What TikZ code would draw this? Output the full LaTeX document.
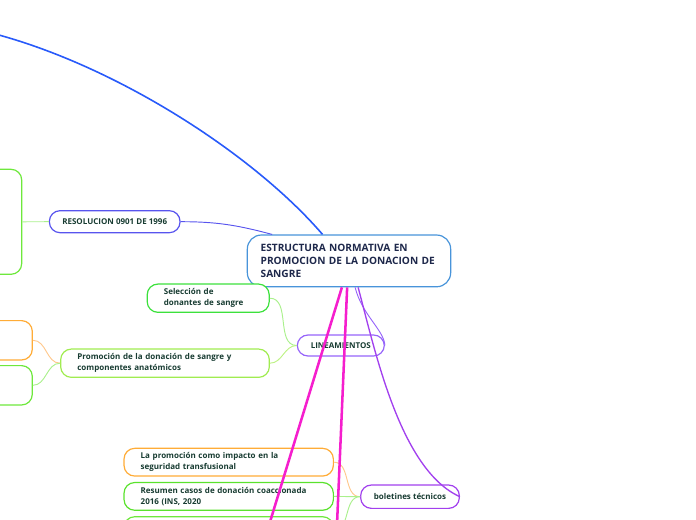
\documentclass[tikz,border=0pt]{standalone}
\usepackage{fontspec}
\setmainfont{Open Sans}
\usepackage{xcolor}
\usepackage{tikz}
\usetikzlibrary{positioning}
\definecolor{centerblue}{RGB}{72, 148, 218}
\definecolor{toplink}{RGB}{40, 90, 250}
\definecolor{resolblue}{RGB}{88, 84, 238}
\definecolor{topgreen}{RGB}{110, 232, 60}
\definecolor{selgreen}{RGB}{60, 225, 60}
\definecolor{limegreen}{RGB}{160, 236, 80}
\definecolor{stuborange}{RGB}{255, 172, 55}
\definecolor{lineampurple}{RGB}{150, 100, 250}
\definecolor{boletpurple}{RGB}{162, 64, 238}
\definecolor{magentaline}{RGB}{245, 30, 205}
\definecolor{resumgreen}{RGB}{90, 226, 45}
\definecolor{paleorange}{RGB}{255, 200, 140}
\definecolor{palegreen}{RGB}{170, 240, 140}
\definecolor{childtext}{RGB}{24, 60, 50}
\definecolor{centertext}{RGB}{30, 40, 75}

\begin{document}
\begin{tikzpicture}[x=0.75pt, y=0.75pt,
    mapbox/.style={draw, line width=0.9pt, rounded corners=8pt, fill=white, text=childtext,
        font=\bfseries\fontsize{6}{8}\selectfont, inner xsep=12.5pt, inner ysep=0pt, align=left},
    pillbox/.style={draw, line width=0.9pt, rounded corners=8pt, fill=white, text=childtext,
        font=\bfseries\fontsize{6}{8}\selectfont, inner xsep=0pt, inner ysep=0pt, align=center},
    stubbox/.style={draw, line width=0.9pt, rounded corners=8pt, fill=white, minimum width=120pt},
    link/.style={line width=0.7pt}]
    \useasboundingbox (0,-520) rectangle (696,0);
    \clip (0,-520) rectangle (696,0);

    % mind map centre and branches
    \node[draw=centerblue, line width=0.9pt, rounded corners=10.5pt, fill=white, text=centertext,
        font=\bfseries\fontsize{7.6}{10}\selectfont, align=left, text width=132.5pt, inner xsep=10pt,
        minimum height=38.8pt] (central) at (349,-260.9)
        {ESTRUCTURA NORMATIVA EN\\PROMOCION DE LA DONACION DE\\SANGRE};

    \node[pillbox, draw=resolblue, minimum width=98pt, minimum height=16.5pt] (resol) at (114.7,-221.7) {RESOLUCION 0901 DE 1996};
    \node[stubbox, draw=topgreen, minimum height=78.75pt] (greentop) at (-58.3,-221.8) {};

    \node[pillbox, draw=lineampurple, minimum width=65.25pt, minimum height=15.75pt] (lineam) at (340.8,-345.5) {LINEAMIENTOS};
    \node[mapbox, draw=selgreen, text width=66.5pt, minimum height=21.2pt] (selec) at (208.2,-298.2) {Selección de\\donantes de sangre};
    \node[mapbox, draw=limegreen, text width=131.5pt, minimum height=21.2pt] (promo) at (165,-363.2) {Promoción de la donación de sangre y\\componentes anatómicos};
    \node[stubbox, draw=stuborange, minimum height=29.5pt] (orangel) at (-47.7,-340.3) {};
    \node[stubbox, draw=topgreen, minimum height=29.5pt] (greenl) at (-47.7,-385.3) {};

    \node[pillbox, draw=boletpurple, minimum width=74pt, minimum height=17.5pt] (bolet) at (410,-496.7) {boletines técnicos};
    \node[mapbox, draw=stuborange, text width=132pt, minimum height=20.8pt] (laprom) at (228.7,-462.2) {La promoción como impacto en la\\seguridad transfusional};
    \node[mapbox, draw=resumgreen, text width=132pt, minimum height=20.8pt] (resum) at (228.7,-496.4) {Resumen casos de donación coaccionada\\2016 (INS, 2020};
    \node[stubbox, draw=topgreen, minimum width=157pt, minimum height=20.8pt] (third) at (228.7,-530.6) {};

    \coordinate (topend) at (-30,-28);
    \coordinate (magend1) at (262,-548);
    \coordinate (magend2) at (336,-548);

    \draw[link, draw=palegreen] (resol.west) -- (greentop.east);
    \draw[link, draw=resolblue] (resol.east) to[out=0, in=165] (central.161);
    \draw[link, draw=palegreen] (lineam.west) to[out=180, in=0] (selec.east);
    \draw[link, draw=limegreen!70] (lineam.west) to[out=180, in=0] (promo.east);
    \draw[link, draw=paleorange] (promo.west) to[out=180, in=0] (orangel.east);
    \draw[link, draw=palegreen] (promo.west) to[out=180, in=0] (greenl.east);
    \draw[link, draw=paleorange] (bolet.west) to[out=180, in=0] (laprom.east);
    \draw[link, draw=palegreen] (bolet.west) -- (resum.east);
    \draw[link, draw=palegreen] (bolet.west) to[out=180, in=0] (third.east);

    \draw[line width=1.2pt, color=toplink] (central.135) .. controls (250,-150) and (100,-55) .. (topend);
    \draw[line width=1.9pt, color=magentaline] (central.255) -- (magend1);
    \draw[line width=1.9pt, color=magentaline] (central.266) -- (magend2);
    \draw[link, draw=lineampurple] (central.283) .. controls (362,-315) and (384,-330) .. (lineam.east);
    \draw[line width=1pt, color=boletpurple] (central.289) .. controls (375,-350) and (400,-470) .. (bolet.east);
\end{tikzpicture}
\end{document}
